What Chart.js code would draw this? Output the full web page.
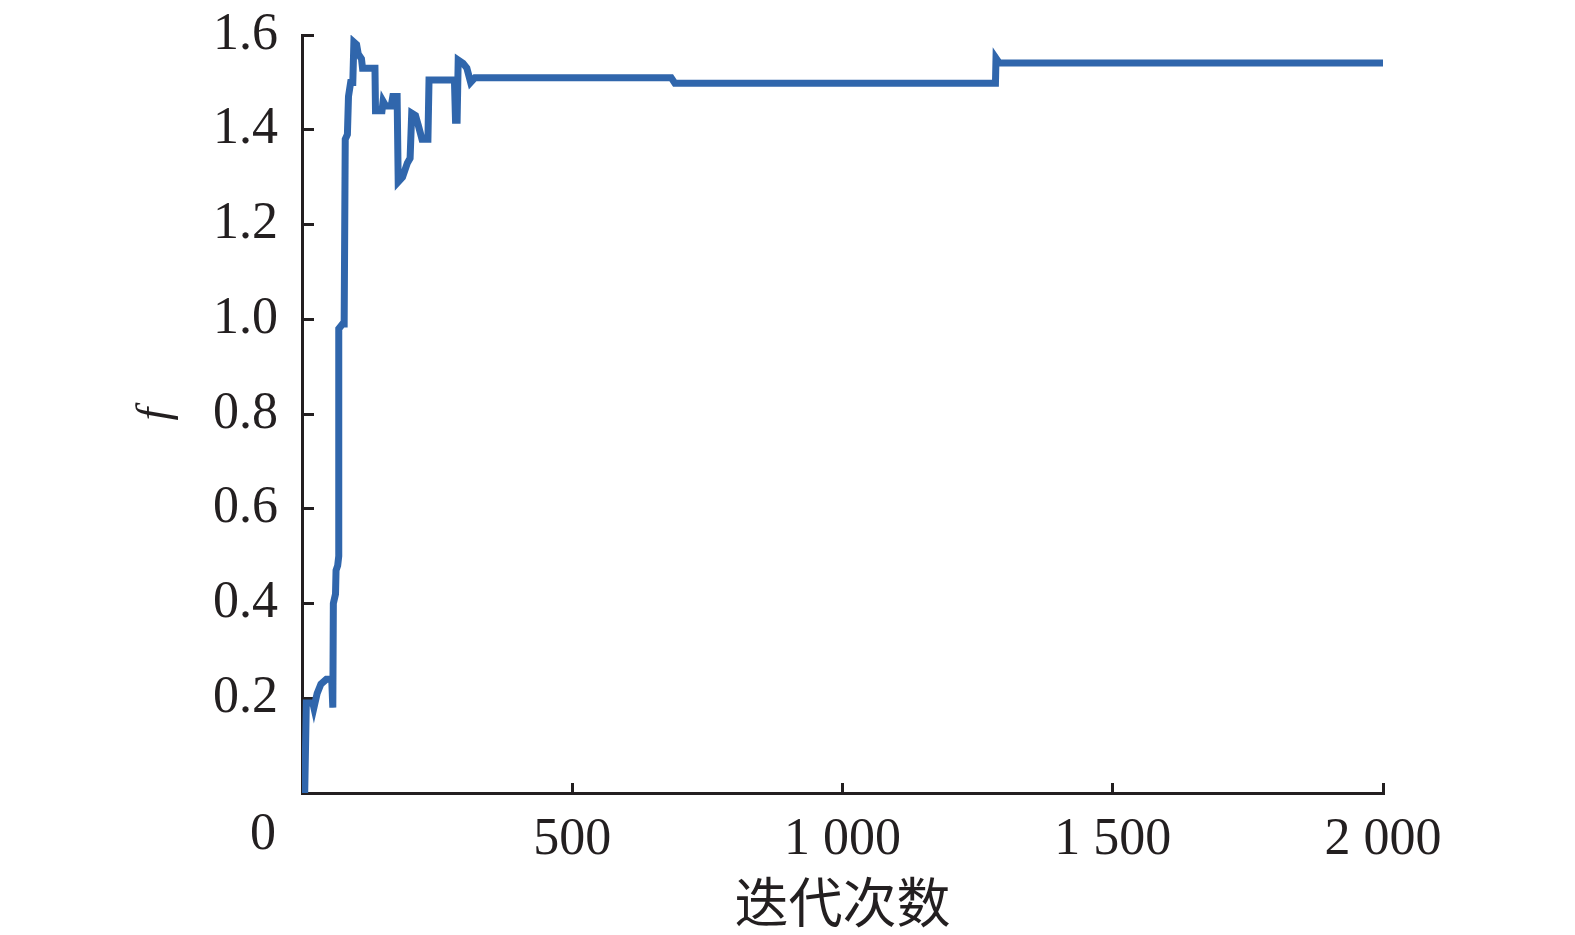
<!DOCTYPE html>
<html>
<head>
<meta charset="utf-8">
<script src="https://cdn.jsdelivr.net/npm/chart.js@4"></script>
<style>
  html, body { margin: 0; padding: 0; background: #fff; }
  #wrap { width: 1575px; height: 935px; }
</style>
</head>
<body>
<div id="wrap"><canvas id="chart"></canvas></div>
<script>
// iteration number and f value
const iterations = [5, 8, 20, 22, 28, 35, 45, 55, 57, 58, 62, 63, 66, 68, 68, 75, 78, 80, 84, 86, 90, 94, 96, 101, 104, 110, 112, 135, 136, 148, 150, 155, 165, 168, 176, 178, 186, 195, 200, 203, 210, 215, 222, 233, 235, 282, 284, 287, 289, 298, 305, 312, 320, 683, 690, 1283, 1284, 1290, 2000];
const fValues = [0, 0.19, 0.19, 0.18, 0.21, 0.23, 0.24, 0.24, 0.18, 0.40, 0.42, 0.47, 0.48, 0.50, 0.98, 0.99, 0.99, 1.38, 1.39, 1.47, 1.50, 1.50, 1.585, 1.58, 1.56, 1.55, 1.53, 1.53, 1.44, 1.44, 1.46, 1.45, 1.45, 1.47, 1.47, 1.29, 1.30, 1.33, 1.34, 1.435, 1.43, 1.41, 1.38, 1.38, 1.505, 1.505, 1.42, 1.42, 1.547, 1.54, 1.53, 1.50, 1.51, 1.51, 1.498, 1.498, 1.551, 1.541, 1.541];
const xTickValues = [0, 500, 1000, 1500, 2000];
const xTickLabels = ["0", "500", "1 000", "1 500", "2 000"];
const yTickValues = [0, 0.2, 0.4, 0.6, 0.8, 1.0, 1.2, 1.4, 1.6];
const yTickLabels = ["", "0.2", "0.4", "0.6", "0.8", "1.0", "1.2", "1.4", "1.6"];

const ink = "#231f20";
const serif = "'Liberation Serif', 'Times New Roman', serif";

// the shared origin "0" sits left of the corner in the original
const originLabel = {
  id: "originLabel",
  afterDraw(chart) {
    const x = chart.scales.x, c = chart.ctx;
    c.save();
    c.font = "52px " + serif;
    c.fillStyle = ink;
    c.textAlign = "center";
    c.textBaseline = "middle";
    c.fillText(xTickLabels[0], x.getPixelForValue(0) - 39, x.top + 42);
    c.restore();
  }
};

const ctx = document.getElementById("chart").getContext("2d");
new Chart(ctx, {
  type: "line",
  data: {
    datasets: [{
      data: iterations.map((v, i) => ({ x: v, y: fValues[i] })),
      borderColor: "#3066ac",
      borderWidth: 7,
      pointRadius: 0,
      tension: 0,
      borderJoinStyle: "miter",
      fill: false
    }]
  },
  options: {
    responsive: true,
    maintainAspectRatio: false,
    animation: false,
    layout: { padding: { top: 35, right: 192, bottom: 0, left: 0 } },
    plugins: { legend: { display: false }, tooltip: { enabled: false } },
    scales: {
      x: {
        type: "linear",
        min: 0,
        max: 2000,
        afterBuildTicks: s => { s.ticks = xTickValues.map(v => ({ value: v })); },
        afterFit: s => { s.height = 142; s.paddingLeft = 0; s.paddingRight = 0; },
        border: { display: true, color: ink, width: 3 },
        grid: { drawOnChartArea: false, drawTicks: true, tickLength: -10, color: ink, lineWidth: 3 },
        ticks: {
          maxRotation: 0,
          padding: 26,
          color: ink,
          font: { family: serif, size: 52 },
          callback: v => v === 0 ? "" : xTickLabels[xTickValues.indexOf(v)]
        },
        title: {
          display: true,
          text: "迭代次数",
          color: ink,
          font: { family: "'Noto Sans CJK SC'", size: 54 },
          padding: { top: 0, bottom: 0 }
        }
      },
      y: {
        min: 0,
        max: 1.6,
        afterBuildTicks: s => { s.ticks = yTickValues.map(v => ({ value: v })); },
        afterFit: s => { s.width = 302; s.paddingTop = 0; s.paddingBottom = 0; },
        border: { display: true, color: ink, width: 3 },
        grid: { drawOnChartArea: false, drawTicks: true, tickLength: -12, color: ink, lineWidth: 3 },
        ticks: {
          padding: 36,
          color: ink,
          font: { family: serif, size: 52 },
          callback: v => yTickLabels[yTickValues.findIndex(t => Math.abs(t - v) < 1e-6)]
        },
        title: {
          display: true,
          text: "f",
          color: ink,
          font: { family: serif, size: 46, style: "italic" },
          padding: { top: 128, bottom: 0 }
        }
      }
    }
  },
  plugins: [originLabel]
});
</script>
</body>
</html>
